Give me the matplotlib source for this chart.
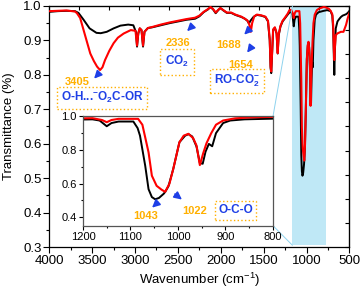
import numpy as np
import matplotlib
matplotlib.use("Agg")
import matplotlib.pyplot as plt
from matplotlib.patches import ConnectionPatch

plt.rcParams['font.family'] = ['Liberation Sans', 'DejaVu Sans']
plt.rcParams['mathtext.fontset'] = 'custom'
plt.rcParams['mathtext.rm'] = 'Liberation Sans'
plt.rcParams['mathtext.bf'] = 'Liberation Sans:bold'

# FTIR spectra (wavenumber in cm-1, transmittance)
wn_black = [4000, 3900, 3800, 3700, 3660, 3600, 3530, 3450, 3400, 3330, 3250, 3170,
            3080, 3020, 2990, 2977, 2962, 2945, 2925, 2907, 2890, 2850, 2800, 2700,
            2600, 2500, 2400, 2300, 2250, 2200, 2150, 2120, 2090, 2060, 2030, 2005,
            1970, 1930, 1880, 1830, 1760, 1720, 1690, 1672, 1655, 1620, 1580, 1530,
            1480, 1450, 1430, 1420, 1412, 1404, 1390, 1370, 1350, 1337, 1325, 1305,
            1280, 1250, 1220, 1200, 1180, 1165, 1150, 1140, 1125, 1094, 1085, 1080,
            1069, 1062, 1055, 1048, 1040, 1030, 1027, 1020, 1010, 997, 985, 978,
            970, 961, 954, 948, 942, 935, 928, 920, 905, 890, 860, 830, 800, 760,
            720, 700, 690, 683, 677, 670, 660, 640, 620, 600, 580, 560, 540, 520, 500]
t_black = [0.983, 0.985, 0.986, 0.985, 0.980, 0.960, 0.935, 0.922, 0.921, 0.925, 0.935, 0.943,
           0.946, 0.944, 0.925, 0.882, 0.920, 0.935, 0.930, 0.882, 0.925, 0.936, 0.938, 0.944,
           0.950, 0.955, 0.960, 0.963, 0.970, 0.982, 0.990, 0.997, 0.990, 0.979, 0.988, 0.994,
           0.987, 0.980, 0.980, 0.974, 0.968, 0.963, 0.957, 0.949, 0.957, 0.968, 0.974, 0.972,
           0.968, 0.955, 0.900, 0.820, 0.805, 0.850, 0.930, 0.937, 0.920, 0.862, 0.915, 0.940,
           0.955, 0.965, 0.975, 0.981, 0.982, 0.975, 0.941, 0.960, 0.969, 0.969, 0.930, 0.885,
           0.706, 0.567, 0.520, 0.507, 0.515, 0.540, 0.551, 0.585, 0.687, 0.846, 0.885, 0.894,
           0.880, 0.820, 0.722, 0.718, 0.790, 0.836, 0.822, 0.900, 0.960, 0.975, 0.982, 0.984, 0.986, 0.988,
           0.985, 0.972, 0.930, 0.860, 0.800, 0.870, 0.935, 0.955, 0.962, 0.968, 0.972, 0.974, 0.976, 0.980, 0.986]

wn_red = [4000, 3900, 3800, 3700, 3677, 3640, 3600, 3560, 3522, 3480, 3443, 3408,
          3380, 3350, 3300, 3250, 3200, 3133, 3050, 2995, 2977, 2962, 2945, 2925, 2907,
          2890, 2850, 2800, 2700, 2600, 2500, 2400, 2300, 2250, 2200, 2150, 2120, 2090,
          2060, 2030, 2005, 1970, 1930, 1880, 1830, 1760, 1720, 1690, 1670, 1650, 1635,
          1610, 1580, 1530, 1480, 1450, 1430, 1420, 1412, 1404, 1390, 1370, 1350, 1337,
          1325, 1305, 1280, 1250, 1220, 1200, 1180, 1160, 1150, 1140, 1125, 1084, 1075,
          1073, 1062, 1055, 1045, 1035, 1027, 1018, 1010, 997, 988, 978, 968, 961, 954,
          947, 940, 930, 920, 905, 880, 850, 800, 780, 740, 720, 700, 690, 683, 677, 670,
          660, 643, 600, 570, 540, 520, 500]
t_red = [0.985, 0.986, 0.987, 0.984, 0.979, 0.965, 0.930, 0.895, 0.862, 0.840, 0.824, 0.814,
         0.822, 0.843, 0.870, 0.892, 0.908, 0.920, 0.930, 0.928, 0.885, 0.922, 0.935, 0.930, 0.885,
         0.925, 0.936, 0.939, 0.946, 0.952, 0.957, 0.962, 0.966, 0.972, 0.983, 0.991, 0.997, 0.991,
         0.981, 0.989, 0.994, 0.988, 0.981, 0.981, 0.975, 0.969, 0.963, 0.958, 0.948, 0.925, 0.950,
         0.970, 0.975, 0.973, 0.969, 0.957, 0.905, 0.825, 0.810, 0.855, 0.932, 0.938, 0.922, 0.863,
         0.918, 0.942, 0.957, 0.967, 0.978, 0.988, 0.989, 0.978, 0.965, 0.978, 0.985, 0.985, 0.950,
         0.925, 0.786, 0.647, 0.587, 0.565, 0.551, 0.600, 0.687, 0.846, 0.885, 0.896, 0.870, 0.826, 0.710,
         0.780, 0.840, 0.900, 0.950, 0.975, 0.988, 0.993, 0.997, 0.996, 0.992, 0.986, 0.976, 0.945, 0.880, 0.843, 0.880,
         0.915, 0.920, 0.925, 0.925, 0.945, 0.965, 0.980]

x_ticks = [4000, 3500, 3000, 2500, 2000, 1500, 1000, 500]
y_ticks = [0.3, 0.4, 0.5, 0.6, 0.7, 0.8, 0.9, 1.0]
in_x_ticks = [1200, 1100, 1000, 900, 800]
in_y_ticks = [0.4, 0.6, 0.8, 1.0]

orange = '#FFB000'
blue = '#1E3FE6'
shade = '#BFE8F6'

fig = plt.figure(figsize=(3.64, 2.91), dpi=100)
ax = fig.add_axes([0.1354, 0.1512, 0.8247, 0.8282])

ax.fill_between([1165, 775], 0.305, 1.0, color=shade, lw=0, zorder=0)
ax.plot(wn_black, t_black, color='black', lw=1.4, zorder=2)
ax.plot(wn_red, t_red, color='#FF0000', lw=1.5, zorder=3)

ax.set_xlim(4000, 500)
ax.set_ylim(0.3, 1.0)
ax.set_xticks(x_ticks)
ax.set_xticks(np.arange(3750, 500, -500), minor=True)
ax.set_yticks(y_ticks)
ax.set_yticks(np.arange(0.35, 1.0, 0.1), minor=True)
ax.set_yticklabels(['%.1f' % v for v in y_ticks])
ax.tick_params(which='major', direction='out', length=4, width=0.8, labelsize=9.5, pad=1.5,
               top=False, right=False)
ax.tick_params(which='minor', direction='out', length=2, width=0.8, top=False, right=False)
ax.set_xlabel('Wavenumber (cm$^{-1}$)', fontsize=9.5)
ax.set_ylabel('Transmittance (%)', fontsize=9.5)
ax.xaxis.set_label_coords(0.5, -0.1)
ax.yaxis.set_label_coords(-0.115, 0.5)
for s in ax.spines.values():
    s.set_linewidth(0.9)

# top / right axes with their own divisions
top = ax.secondary_xaxis('top')
top.set_xticks(np.linspace(4000, 500, 11))
top.tick_params(direction='in', length=3, width=0.8, labeltop=False)
right = ax.secondary_yaxis('right')
right.set_yticks(np.linspace(0.3, 1.0, 11))
right.tick_params(direction='in', length=3, width=0.8, labelright=False)

box = dict(boxstyle='square,pad=0.3', fc='white', ec=orange, ls=':', lw=1.0)
arrow = dict(arrowstyle='-|>,head_length=0.45,head_width=0.22', color=blue, lw=1.2)

ax.annotate('', xy=(3500, 0.783), xytext=(3403, 0.809), arrowprops=arrow)
ax.text(3680, 0.778, '3405', color=orange, fontsize=8, fontweight='bold', ha='center', va='center')
ax.text(3385, 0.733, r'O-H...$^{\mathbf{-}}$O$_{\mathbf{2}}$C-OR', color=blue, fontsize=8.5,
        fontweight='bold', ha='center', va='center', bbox=box)

ax.annotate('', xy=(2417, 0.921), xytext=(2320, 0.945), arrowprops=arrow)
ax.text(2496, 0.892, '2336', color=orange, fontsize=8, fontweight='bold', ha='center', va='center')
ax.text(2513, 0.838, r'CO$_{\mathbf{2}}$', color=blue, fontsize=8.5, fontweight='bold',
        ha='center', va='center', bbox=dict(boxstyle='square,pad=0.45', fc='white', ec=orange, ls=':', lw=1.0))

ax.annotate('', xy=(1751, 0.911), xytext=(1655, 0.935), arrowprops=arrow)
ax.text(1907, 0.887, '1688', color=orange, fontsize=8, fontweight='bold', ha='center', va='center')
ax.annotate('', xy=(1713, 0.858), xytext=(1635, 0.884), arrowprops=arrow)
ax.text(1771, 0.828, '1654', color=orange, fontsize=8, fontweight='bold', ha='center', va='center')
ax.text(1810, 0.782, r'RO-CO$_{\mathbf{2}}^{\mathbf{-}}$', color=blue, fontsize=8.5, fontweight='bold',
        ha='center', va='center', bbox=dict(boxstyle='square,pad=0.35', fc='white', ec=orange, ls=':', lw=1.0))

# inset zoom of 1200-800 cm-1
axi = fig.add_axes([0.228, 0.2244, 0.522, 0.3759], zorder=5)
axi.plot(wn_black, t_black, color='black', lw=1.4)
axi.plot(wn_red, t_red, color='#FF0000', lw=1.5)
axi.set_xlim(1200, 800)
axi.set_ylim(0.35, 1.0)
axi.set_xticks(in_x_ticks)
axi.set_xticks([1150, 1050, 950, 850], minor=True)
axi.set_yticks(in_y_ticks)
axi.set_yticks([0.5, 0.7, 0.9], minor=True)
axi.set_yticklabels(['%.1f' % v for v in in_y_ticks])
axi.tick_params(which='major', direction='out', length=3, width=0.8, labelsize=8, pad=1.5)
axi.tick_params(which='minor', direction='out', length=1.5, width=0.8)
for s in axi.spines.values():
    s.set_color('#555555')
    s.set_linewidth(0.9)

axi.annotate('', xy=(1059, 0.446), xytext=(1038, 0.50), arrowprops=arrow)
axi.text(1069, 0.406, '1043', color=orange, fontsize=8, fontweight='bold', ha='center', va='center')
axi.annotate('', xy=(987, 0.495), xytext=(1011, 0.548), arrowprops=arrow)
axi.text(964, 0.436, '1022', color=orange, fontsize=8, fontweight='bold', ha='center', va='center')
axi.text(879, 0.441, 'O-C-O', color=blue, fontsize=8.5, fontweight='bold', ha='center', va='center', bbox=box)

for ya, yb in [(1.0, 1.0), (0.0, 0.305)]:
    con = ConnectionPatch(xyA=(1.0, ya), coordsA=axi.transAxes, xyB=(1165, yb), coordsB=ax.transData,
                          color='#8ED3EE', lw=0.7, zorder=1)
    fig.add_artist(con)

fig.savefig('out.png', dpi=100)
